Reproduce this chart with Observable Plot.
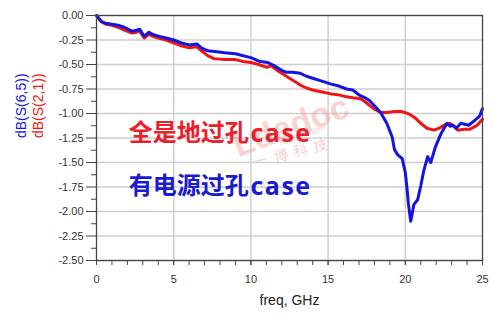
<!DOCTYPE html>
<html>
<head>
<meta charset="utf-8">
<script src="https://cdn.jsdelivr.net/npm/d3@7"></script>
<script src="https://cdn.jsdelivr.net/npm/@observablehq/plot@0.6"></script>
<style>
  html, body { margin: 0; padding: 0; background: #fff; }
</style>
</head>
<body>
<div id="chart"></div>
<script>
// ---- data ----
const s65Freq = [0,0.1,0.3,0.6,1.0,1.4,1.8,2.3,2.6,2.8,3.0,3.1,3.4,3.6,4.0,4.5,5.0,5.5,6.0,6.5,6.8,7.2,7.8,8.3,9.0,9.5,10.0,10.6,11.1,11.5,11.7,12.0,12.3,12.7,13.2,13.6,14.0,14.6,15.2,15.7,16.2,16.6,17.0,17.4,17.7,18.0,18.4,18.8,19.15,19.3,19.5,19.8,20.0,20.1,20.2,20.35,20.45,20.55,20.8,21.0,21.2,21.45,21.65,21.95,22.3,22.7,22.9,23.1,23.3,23.6,24.1,24.5,24.8,25.0];
const s65dB   = [0,-0.02,-0.06,-0.08,-0.09,-0.10,-0.12,-0.16,-0.15,-0.14,-0.19,-0.21,-0.17,-0.19,-0.21,-0.23,-0.25,-0.28,-0.30,-0.29,-0.33,-0.36,-0.37,-0.38,-0.39,-0.41,-0.43,-0.47,-0.48,-0.51,-0.53,-0.56,-0.58,-0.58,-0.59,-0.62,-0.64,-0.67,-0.70,-0.72,-0.75,-0.76,-0.81,-0.84,-0.87,-0.92,-0.99,-1.10,-1.24,-1.37,-1.42,-1.46,-1.60,-1.75,-1.92,-2.10,-2.02,-1.93,-1.88,-1.74,-1.58,-1.44,-1.50,-1.34,-1.21,-1.10,-1.13,-1.12,-1.15,-1.10,-1.12,-1.07,-1.03,-0.95];

const s21Freq = [0,0.1,0.3,0.6,1.0,1.4,1.8,2.3,2.6,2.8,3.0,3.1,3.4,3.6,4.0,4.5,5.0,5.5,6.0,6.5,6.8,7.2,7.6,8.3,9.0,9.5,10.0,10.5,11.05,11.3,11.7,12.0,12.3,12.6,13.2,13.6,14.0,14.6,15.2,15.7,16.2,16.6,17.1,17.4,17.7,17.95,18.4,18.8,19.3,19.7,20.0,20.3,20.6,21.0,21.4,21.85,22.2,22.5,22.9,23.2,23.4,23.8,24.2,24.65,25.0];
const s21dB   = [0,-0.02,-0.06,-0.09,-0.10,-0.12,-0.15,-0.18,-0.17,-0.16,-0.21,-0.23,-0.19,-0.21,-0.23,-0.25,-0.28,-0.31,-0.33,-0.32,-0.36,-0.41,-0.44,-0.45,-0.45,-0.47,-0.48,-0.50,-0.53,-0.51,-0.56,-0.59,-0.62,-0.65,-0.71,-0.74,-0.76,-0.78,-0.80,-0.81,-0.83,-0.84,-0.85,-0.88,-0.92,-0.95,-0.99,-0.99,-0.98,-0.98,-0.99,-1.01,-1.04,-1.10,-1.15,-1.17,-1.15,-1.12,-1.10,-1.14,-1.17,-1.16,-1.16,-1.12,-1.06];

const yTicks  = [0,-0.25,-0.5,-0.75,-1,-1.25,-1.5,-1.75,-2,-2.25,-2.5];
const yMinor  = [-0.125,-0.375,-0.625,-0.875,-1.125,-1.375,-1.625,-1.875,-2.125,-2.375];
const xTicks  = [0,5,10,15,20,25];
const xMinor  = d3.range(0, 26, 1);
const xGrid   = [5,10,15,20];

const seriesNames = ["dB(S(6,5))", "dB(S(2,1))"];
const annoCJK = ["全是地过孔", "有电源过孔"];
const annoLatin = "case";

const blue = "#1414e0";
const red  = "#f01414";

const s65 = s65Freq.map((f, i) => ({f, v: s65dB[i]}));
const s21 = s21Freq.map((f, i) => ({f, v: s21dB[i]}));

const plot = Plot.plot({
  width: 494,
  height: 321,
  marginLeft: 96,
  marginRight: 12,
  marginTop: 15,
  marginBottom: 61,
  style: {fontFamily: "'Liberation Sans', Arial, sans-serif", fontSize: "11px", background: "#fff", color: "#333"},
  x: {domain: [0, 25]},
  y: {domain: [-2.5, 0]},
  marks: [
    Plot.gridY(yTicks, {stroke: "#cfcfcf", strokeOpacity: 1, strokeWidth: 1.5}),
    Plot.gridX(xGrid, {stroke: "#cfcfcf", strokeOpacity: 1, strokeWidth: 1.5}),
    // watermark
    Plot.text(["Ldadoc"], {x: 12.6, y: -1.13, text: d => d, rotate: -20, fontSize: 34, fontWeight: "bold", fill: "#f29a9a", fillOpacity: 0.45, fontFamily: "'Liberation Sans', Arial, sans-serif"}),
    Plot.text(["Your Partner"], {x: 13.3, y: -1.22, text: d => d, rotate: -20, fontSize: 9, fontStyle: "italic", fill: "#f29a9a", fillOpacity: 0.5}),
    Plot.text(["一  博  科  技"], {x: 12.6, y: -1.41, text: d => d, rotate: -14, fontSize: 14, fill: "#f29a9a", fillOpacity: 0.5, fontFamily: "'Noto Sans CJK SC'"}),
    Plot.line(s21, {x: "f", y: "v", stroke: red, strokeWidth: 3, strokeLinejoin: "round"}),
    Plot.line(s65, {x: "f", y: "v", stroke: blue, strokeWidth: 3, strokeLinejoin: "round"}),
    Plot.frame({stroke: "#444", strokeWidth: 1.3}),
    Plot.axisY(yTicks, {tickSize: 10, tickPadding: 3, tickFormat: d => d.toFixed(2), label: null, stroke: "#444", fill: "#333", fontSize: 11}),
    Plot.axisY(yMinor, {tickSize: 5, tickFormat: () => "", label: null, stroke: "#444"}),
    Plot.axisX(xMinor, {tickSize: 5, tickFormat: () => "", label: null, stroke: "#444"}),
    Plot.axisX(xTicks, {tickSize: 5, tickPadding: 10, tickFormat: d => String(d), label: null, stroke: "#444", fill: "#333", fontSize: 11}),
    Plot.text(["freq, GHz"], {frameAnchor: "bottom", dy: 44.5, text: d => d, fontSize: 14, fill: "#222"}),
    Plot.text([seriesNames[0]], {frameAnchor: "left", dx: -75, rotate: -90, text: d => d, fontSize: 14, fill: blue}),
    Plot.text([seriesNames[1]], {frameAnchor: "left", dx: -58, rotate: -90, text: d => d, fontSize: 14, fill: red}),
    Plot.text([annoCJK[0]], {x: 2.09, y: -1.20, text: d => d, textAnchor: "start", fontSize: 24, fontWeight: "bold", fill: "#e8202a", fontFamily: "'Noto Sans CJK SC', sans-serif"}),
    Plot.text([annoLatin], {x: 9.97, y: -1.20, dy: 1, text: d => d, textAnchor: "start", fontSize: 25, fontWeight: "bold", fill: "#e8202a", fontFamily: "'Open Sans', sans-serif", className: "latin"}),
    Plot.text([annoCJK[1]], {x: 2.09, y: -1.74, text: d => d, textAnchor: "start", fontSize: 24, fontWeight: "bold", fill: "#1a1ad2", fontFamily: "'Noto Sans CJK SC', sans-serif"}),
    Plot.text([annoLatin], {x: 9.97, y: -1.74, dy: 1, text: d => d, textAnchor: "start", fontSize: 25, fontWeight: "bold", fill: "#1a1ad2", fontFamily: "'Open Sans', sans-serif", className: "latin"})
  ]
});
d3.select(plot).selectAll("g.latin text").attr("letter-spacing", "1.5px");
document.getElementById("chart").appendChild(plot);
</script>
</body>
</html>
